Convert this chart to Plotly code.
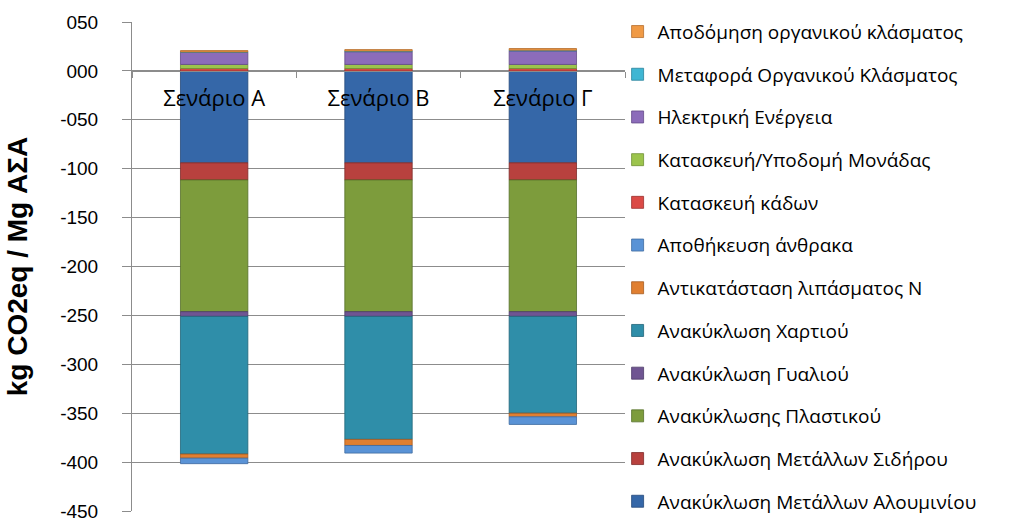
import plotly.graph_objects as go

scenarios = ["Σενάριο Α", "Σενάριο Β", "Σενάριο Γ"]

series_names = [
    "Ανακύκλωση Μετάλλων Αλουμινίου",
    "Ανακύκλωση Μετάλλων Σιδήρου",
    "Ανακύκλωσης Πλαστικού",
    "Ανακύκλωση Γυαλιού",
    "Ανακύκλωση Χαρτιού",
    "Αντικατάσταση λιπάσματος Ν",
    "Αποθήκευση άνθρακα",
    "Κατασκευή κάδων",
    "Κατασκευή/Υποδομή Μονάδας",
    "Ηλεκτρική Ενέργεια",
    "Μεταφορά Οργανικού Κλάσματος",
    "Αποδόμηση οργανικού κλάσματος",
]

aluminium = [-94.0, -94.0, -94.0]
iron = [-17.5, -17.5, -17.5]
plastic = [-134.7, -134.7, -134.7]
glass = [-4.8, -4.8, -4.8]
paper = [-140.8, -125.8, -99.0]
fertilizer = [-4.2, -6.2, -3.7]
carbon_storage = [-5.6, -7.8, -7.8]
bins = [2.4, 2.4, 2.4]
infrastructure = [4.2, 4.2, 4.2]
electricity = [12.5, 13.0, 13.8]
transport = [0.3, 0.7, 0.8]
decomposition = [1.4, 1.5, 1.7]

series_values = [aluminium, iron, plastic, glass, paper, fertilizer,
                 carbon_storage, bins, infrastructure, electricity,
                 transport, decomposition]

colors = ["#3567a8", "#b8413e", "#7d9c3c", "#6f5592", "#2f8ea9", "#e07f31",
          "#5a93d6", "#db4a46", "#9cc44c", "#8c6cba", "#3fb6d3", "#f09a45"]
edge = ["#24497a", "#7d2a28", "#55702a", "#4d3b68", "#1f6479", "#a65a20",
        "#3d6aa0", "#9a302d", "#6f8f33", "#634a88", "#2a829a", "#b56d2c"]

tick_vals = [50, 0, -50, -100, -150, -200, -250, -300, -350, -400, -450]
tick_text = ["050", "000", "-050", "-100", "-150", "-200", "-250", "-300",
             "-350", "-400", "-450"]

fig = go.Figure()
for i, (name, vals) in enumerate(zip(series_names, series_values)):
    fig.add_trace(go.Bar(
        x=scenarios, y=vals, name=name,
        marker=dict(color=colors[i], line=dict(color=edge[i], width=0.8)),
        legendgroup=name, legendrank=100 - i,
    ))

fig.update_layout(
    width=1014, height=523,
    margin=dict(l=132, r=389, t=22, b=12, autoexpand=False),
    paper_bgcolor="white", plot_bgcolor="white",
    barmode="relative", bargap=0.59,
    font=dict(family="Open Sans, Noto Sans, sans-serif", color="black"),
    showlegend=True,
    legend=dict(x=0.985, y=1.019, xanchor="left", yanchor="top",
                font=dict(size=19, family="Open Sans, Noto Sans, sans-serif"),
                tracegroupgap=15, itemwidth=30, maxheight=700,
                bgcolor="rgba(0,0,0,0)"),
)

fig.update_yaxes(
    range=[-450, 50], tickvals=tick_vals, ticktext=tick_text,
    tickfont=dict(family="Liberation Sans, Arial, sans-serif", size=19),
    showgrid=True, gridcolor="#8c8c8c", gridwidth=1,
    zeroline=False, showline=True, linecolor="#8c8c8c", linewidth=1,
    ticks="outside", ticklen=9, tickcolor="#8c8c8c",
    ticklabelstandoff=20,
    title=dict(text="<b>kg CO2eq / Mg ΑΣΑ</b>",
               font=dict(family="Liberation Sans, Arial, sans-serif", size=28),
               standoff=24),
)

fig.update_xaxes(
    anchor="free", position=0.9,
    showline=True, linecolor="#8c8c8c", linewidth=1,
    ticks="outside", tickson="boundaries", ticklen=6, tickcolor="#8c8c8c",
    tickfont=dict(family="Open Sans, Noto Sans, sans-serif", size=22),
    ticklabelstandoff=8,
    showgrid=False,
)

fig.write_html("out.html")
